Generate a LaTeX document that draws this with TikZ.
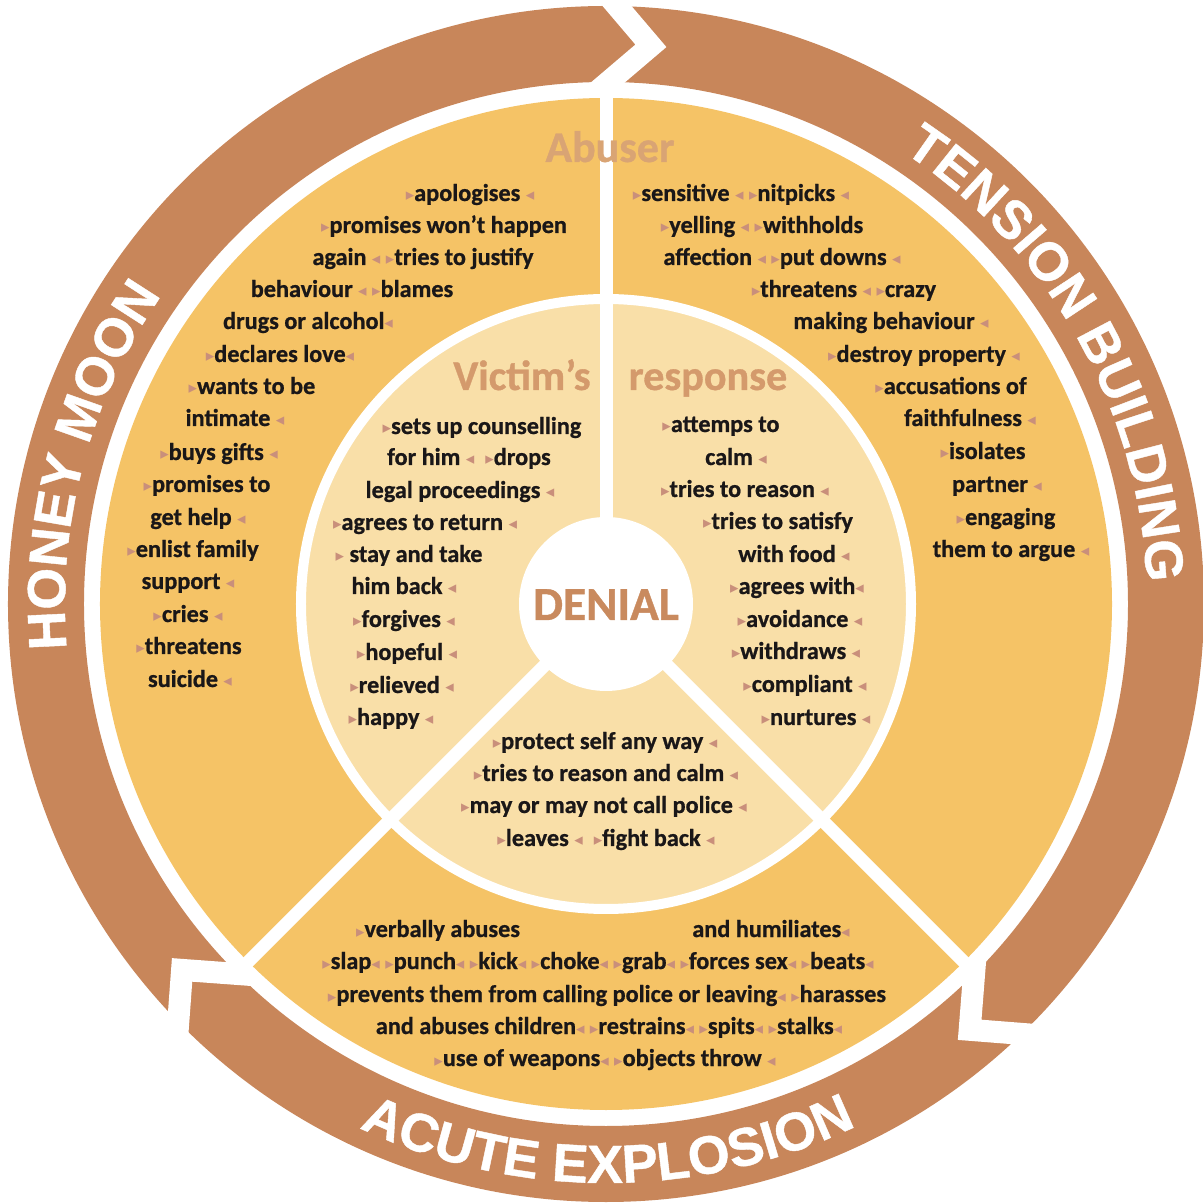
\documentclass[tikz,border=0pt]{standalone}
\usepackage{fontspec}
\usepackage{xcolor}
\usepackage{tikz}
\usetikzlibrary{calc, decorations.text}

\setmainfont{Carlito}[BoldFeatures={FakeBold=0.8}]
\newfontfamily\ringfont{Liberation Sans}[BoldFeatures={FakeBold=0.8}]
\newfontfamily\markfont{DejaVu Sans}

\definecolor{ringbrown}{HTML}{C8865A}
\definecolor{wheelorange}{HTML}{F5C366}
\definecolor{wheellight}{HTML}{F9DFA8}
\definecolor{abusercol}{HTML}{D9A474}
\definecolor{victimcol}{HTML}{D49A6C}
\definecolor{denialcol}{HTML}{C98A5E}
\definecolor{tipcol}{HTML}{C98F7B}
\definecolor{ink}{HTML}{1A1718}

\newcommand\mkR{{\markfont\fontsize{4.8}{5}\selectfont\textcolor{tipcol}{▸}}}
\newcommand\mkL{{\markfont\fontsize{4.8}{5}\selectfont\textcolor{tipcol}{◂}}}
\newcommand\ringlab{\color{white}\ringfont\bfseries\fontsize{15.3}{16}\selectfont}

\begin{document}
\begin{tikzpicture}[x=0.1mm, y=0.1mm,
    item/.style={font=\bfseries\fontsize{6.9}{8}\selectfont, text=ink, anchor=base, inner sep=0pt},
    heading/.style={font=\bfseries\fontsize{12}{14}\selectfont, anchor=base, inner sep=0pt},
    gap/.style={white, line width=2.2mm},
    divider/.style={white, line width=1.3mm}]
        \useasboundingbox (-606,-599) rectangle (597,604);

        % outer ring and its three arrow joints
        \fill[ringbrown, even odd rule] (0,0) circle[radius=598] (0,0) circle[radius=522];
        \foreach \a in {85.4, 220.8, 310.5} {
            \draw[gap] ($(\a:560)+(\a+90:70)+(\a:70)$) -- (\a:560) -- ($(\a:560)+(\a+90:70)-(\a:70)$);
        }

        % wheel
        \fill[wheelorange] (0,0) circle[radius=506];
        \filldraw[fill=wheellight, draw=white, line width=1mm] (0,0) circle[radius=305];
        \foreach \a in {90, 225, 315} {
            \draw[divider] (0,0) -- (\a:522);
        }
        \fill[white] (0,0) circle[radius=87];

        % ring labels
        \path[decorate, decoration={text along path, text align=center, text={|\ringlab|HONEY MOON}}]
            (195:541) arc[start angle=195, end angle=135, radius=541];
        \path[decorate, decoration={text along path, text align=center, text={|\ringlab|TENSION BUILDING}}]
            (64.5:541) arc[start angle=64.5, end angle=-5.5, radius=541];
        \path[decorate, decoration={text along path, text align=center, text={|\ringlab|ACUTE EXPLOSION}}]
            (240.2:579) arc[start angle=240.2, end angle=300.2, radius=579];

        % headings
        \node[heading, text=abusercol, font=\bfseries\fontsize{12.5}{14}\selectfont] (abuser) at (4,442) {Abuser};
        \node[heading, text=victimcol] (victims) at (-84,214) {Victim’s};
        \node[heading, text=victimcol] (response) at (102,214) {response};
        \node[heading, text=denialcol, font=\bfseries\fontsize{13.5}{15}\selectfont] (denial) at (0,-16) {DENIAL};

        % abuser, honey moon side
        \foreach \x/\y/\t [count=\i] in {
            470/201/{\mkR apologises \mkL},
            444/233/{\mkR promises won’t happen},
            423/265/{again \mkL\ \mkR tries to justify},
            352/297/{behaviour \mkL\ \mkR blames},
            308/329/{drugs or alcohol\mkL},
            280/362/{\mkR declares love\mkL},
            252/394/{\mkR wants to be},
            235/426/{intimate \mkL},
            219/460/{\mkR buys gifts \mkL},
            207/492/{\mkR promises to},
            198/525/{get help \mkL},
            193/557/{\mkR enlist family},
            188/589/{support \mkL},
            188/622/{\mkR cries \mkL},
            189/654/{\mkR threatens},
            190/687/{suicide \mkL}} {
            \node[item] (honey\i) at ({\x-606},{604-\y}) {\t};
        }

        % abuser, tension side
        \foreach \x/\y/\t [count=\i] in {
            741/201/{\mkR sensitive \mkL\ \mkR nitpicks \mkL},
            762/233/{\mkR yelling \mkL\ \mkR withholds},
            782/265/{affection \mkL\ \mkR put downs \mkL},
            844/297/{\mkR threatens \mkL\ \mkR crazy},
            891/329/{making behaviour \mkL},
            924/362/{\mkR destroy property \mkL},
            951/394/{\mkR accusations of},
            970/426/{faithfulness \mkL},
            983/459/{\mkR isolates},
            997/492/{partner \mkL},
            1006/525/{\mkR engaging},
            1011/557/{them to argue \mkL}} {
            \node[item] (tension\i) at ({\x-606},{604-\y}) {\t};
        }

        % victim, left
        \foreach \x/\y/\t [count=\i] in {
            482/434/{\mkR sets up counselling},
            469/465/{for him \mkL\ \ \mkR drops},
            460/498/{legal proceedings \mkL},
            425/530/{\mkR agrees to return \mkL},
            409/562/{\mkR\ stay and take},
            404/594/{him back \mkL},
            404/627/{\mkR forgives \mkL},
            407/660/{\mkR hopeful \mkL},
            402/693/{\mkR relieved \mkL},
            391/725/{\mkR happy \mkL}} {
            \node[item] (vleft\i) at ({\x-606},{604-\y}) {\t};
        }

        % victim, right
        \foreach \x/\y/\t [count=\i] in {
            721/432/{\mkR attemps to},
            736/465/{calm \mkL},
            745/497/{\mkR tries to reason \mkL},
            778/529/{\mkR tries to satisfy},
            794/562/{with food \mkL},
            797/594/{\mkR agrees with\mkL},
            800/627/{\mkR avoidance \mkL},
            796/659/{\mkR withdraws \mkL},
            805/692/{\mkR compliant \mkL},
            816/725/{\mkR nurtures \mkL}} {
            \node[item] (vright\i) at ({\x-606},{604-\y}) {\t};
        }

        % victim, bottom
        \foreach \x/\y/\t [count=\i] in {
            605/749/{\mkR protect self any way \mkL},
            606/781/{\mkR tries to reason and calm \mkL},
            604/813/{\mkR may or may not call police \mkL},
            606/846/{\mkR leaves \mkL\ \ \mkR fight back \mkL}} {
            \node[item] (vbottom\i) at ({\x-606},{604-\y}) {\t};
        }

        % acute explosion
        \foreach \x/\y/\t [count=\i] in {
            438/937/{\mkR verbally abuses},
            771/937/{and humiliates\mkL},
            598/969/{\mkR slap\mkL\ \mkR punch\mkL\ \mkR kick\mkL\ \mkR choke\mkL\ \mkR grab\mkL\ \mkR forces sex\mkL\ \mkR beats\mkL},
            607/1002/{\mkR prevents them from calling police or leaving\mkL\ \mkR harasses},
            609/1034/{and abuses children\mkL\ \mkR restrains\mkL\ \mkR spits\mkL\ \mkR stalks\mkL},
            605/1066/{\mkR use of weapons\mkL\ \mkR objects throw \mkL}} {
            \node[item] (acute\i) at ({\x-606},{604-\y}) {\t};
        }
\end{tikzpicture}
\end{document}
